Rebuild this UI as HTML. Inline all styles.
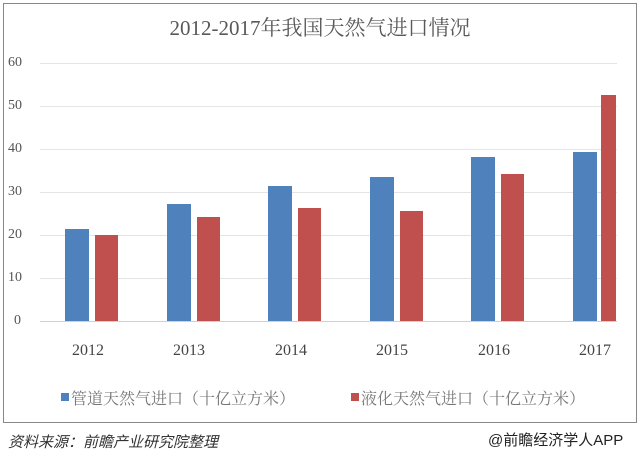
<!DOCTYPE html><html><head><meta charset="utf-8"><style>
body{margin:0;width:640px;height:457px;background:#fff;position:relative;overflow:hidden;font-family:"Liberation Serif","Noto Serif CJK SC",serif}
.box{position:absolute;left:3px;top:3px;width:632px;height:418px;border:1px solid #888}
.t{position:absolute;color:#555}
.g{position:absolute;left:40px;width:577px;height:1px;background:#e4e4e4}
.b{position:absolute;background:#4f81bd}.r{position:absolute;background:#c0504d}
.y{font-size:16px;color:#444}
</style></head><body>
<div class="box"></div>
<div class="t" style="left:0;width:640px;top:12px;text-align:center;font-size:21px;color:#595959">2012-2017年我国天然气进口情况</div>
<div class="g" style="top:63px"></div><div class="g" style="top:106px"></div><div class="g" style="top:149px"></div><div class="g" style="top:192px"></div><div class="g" style="top:235px"></div><div class="g" style="top:278px"></div><div class="g" style="top:321px;background:#d0d0d0"></div>
<div class="t" style="left:8px;top:55px;font-size:14px">60</div>
<div class="t" style="left:8px;top:98px;font-size:14px">50</div>
<div class="t" style="left:8px;top:141px;font-size:14px">40</div>
<div class="t" style="left:8px;top:184px;font-size:14px">30</div>
<div class="t" style="left:8px;top:227px;font-size:14px">20</div>
<div class="t" style="left:8px;top:270px;font-size:14px">10</div>
<div class="t" style="left:14px;top:313px;font-size:14px">0</div>
<div class="b" style="left:65px;width:24px;top:229px;height:92px"></div><div class="r" style="left:95px;width:23px;top:235px;height:86px"></div>
<div class="b" style="left:167px;width:24px;top:204px;height:117px"></div><div class="r" style="left:197px;width:23px;top:217px;height:104px"></div>
<div class="b" style="left:268px;width:24px;top:186px;height:135px"></div><div class="r" style="left:298px;width:23px;top:208px;height:113px"></div>
<div class="b" style="left:370px;width:24px;top:177px;height:144px"></div><div class="r" style="left:400px;width:23px;top:211px;height:110px"></div>
<div class="b" style="left:471px;width:24px;top:157px;height:164px"></div><div class="r" style="left:501px;width:23px;top:174px;height:147px"></div>
<div class="b" style="left:573px;width:24px;top:152px;height:169px"></div><div class="r" style="left:601px;width:15px;top:95px;height:226px"></div>
<div class="t y" style="left:72px;top:342px">2012</div>
<div class="t y" style="left:173px;top:342px">2013</div>
<div class="t y" style="left:275px;top:342px">2014</div>
<div class="t y" style="left:376px;top:342px">2015</div>
<div class="t y" style="left:478px;top:342px">2016</div>
<div class="t y" style="left:579px;top:342px">2017</div>
<div class="b" style="left:61px;top:393px;width:8px;height:8px"></div>
<div class="t" style="left:71px;top:386px;font-size:16px;color:#777">管道天然气进口（十亿立方米）</div>
<div class="r" style="left:351px;top:393px;width:8px;height:8px"></div>
<div class="t" style="left:361px;top:386px;font-size:16px;color:#777">液化天然气进口（十亿立方米）</div>
<div class="t" style="left:8px;top:431px;font-size:15px;font-style:italic;color:#333;font-family:'Liberation Sans','Noto Sans CJK SC',sans-serif">资料来源：前瞻产业研究院整理</div>
<div class="t" style="left:488px;top:429px;font-size:15px;color:#222;font-family:'Liberation Sans','Noto Sans CJK SC',sans-serif">@前瞻经济学人APP</div>
</body></html>
